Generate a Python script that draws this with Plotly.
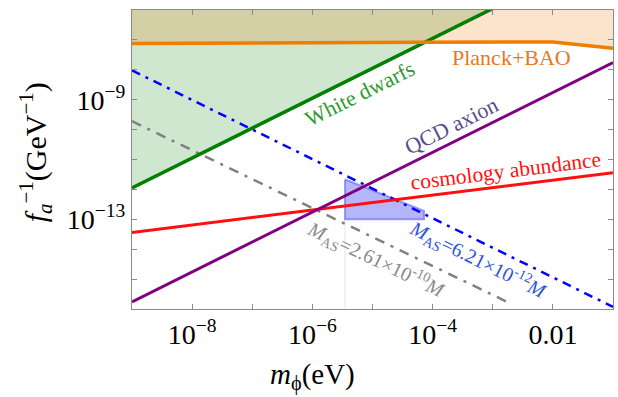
import numpy as np
import plotly.graph_objects as go

# ---- data (log10 values) ----
x_decades = list(range(-9, 0))           # tick positions (log10 m_phi)
x_tick_labels = {-8: "10<sup>−8</sup>", -6: "10<sup>−6</sup>", -4: "10<sup>−4</sup>", -2: "0.01"}
y_decades = list(range(-16, -5))
y_tick_labels = {-9: "10<sup>−9</sup>", -13: "10<sup>−13</sup>"}

wd_logm = [-9.0, -1.0]
wd_logf = [-11.95, -3.95]

planck_logm = [-9.0, -4.9, -4.2, -2.0, -1.0]
planck_logf = [-7.12, -7.11, -7.08, -7.07, -7.28]

qcd_logm = [-9.0, -1.0]
qcd_logf = [-15.76, -7.76]

cosmo_logm = [-9.0, -1.0]
cosmo_logf = [-13.44, -11.44]

mas1_logm = [-9.0, -1.0]          # M_AS = 6.21e-12 M
mas1_logf = [-8.02, -15.93]

mas2_logm = [-9.0, -2.69]         # M_AS = 2.61e-10 M
mas2_logf = [-9.72, -15.83]

region_logm = [-5.457, -4.144, -4.144, -5.457, -5.457]
region_logf = [-11.67, -12.72, -13.0, -13.0, -11.67]

guide_logm = [-5.457, -5.457]
guide_logf = [-16.0, -13.0]

TOP = -3.95


def p(v):
    return [10.0 ** t for t in v]


fig = go.Figure()

# white-dwarf excluded region (above green line)
fig.add_trace(go.Scatter(
    x=p(wd_logm + [wd_logm[-1], wd_logm[0]]),
    y=p(wd_logf + [TOP, TOP]),
    fill="toself", fillcolor="rgba(0,128,0,0.19)", line=dict(width=0),
    mode="lines", hoverinfo="skip", showlegend=False))

# Planck+BAO excluded region (above orange line)
fig.add_trace(go.Scatter(
    x=p(planck_logm + [planck_logm[-1], planck_logm[0]]),
    y=p(planck_logf + [TOP, TOP]),
    fill="toself", fillcolor="rgba(235,115,0,0.2)", line=dict(width=0),
    mode="lines", hoverinfo="skip", showlegend=False))

# faint guide line
fig.add_trace(go.Scatter(x=p(guide_logm), y=p(guide_logf), mode="lines",
                         line=dict(color="#E4E4F6", width=1), showlegend=False))

# allowed region
fig.add_trace(go.Scatter(
    x=p(region_logm), y=p(region_logf), fill="toself",
    fillcolor="rgba(90,90,245,0.45)",
    line=dict(color="rgba(120,120,245,0.75)", width=2),
    mode="lines", showlegend=False))

fig.add_trace(go.Scatter(x=p(mas2_logm), y=p(mas2_logf), mode="lines",
                         line=dict(color="#808080", width=2.5, dash="10px,7px,3px,7px"),
                         showlegend=False))
fig.add_trace(go.Scatter(x=p(mas1_logm), y=p(mas1_logf), mode="lines",
                         line=dict(color="#0000FF", width=2.5, dash="9px,6px,3px,6px"),
                         showlegend=False))
fig.add_trace(go.Scatter(x=p(cosmo_logm), y=p(cosmo_logf), mode="lines",
                         line=dict(color="#FF1010", width=3), showlegend=False))
fig.add_trace(go.Scatter(x=p(qcd_logm), y=p(qcd_logf), mode="lines",
                         line=dict(color="#800080", width=3), showlegend=False))
fig.add_trace(go.Scatter(x=p(wd_logm), y=p(wd_logf), mode="lines",
                         line=dict(color="#008000", width=3.5), showlegend=False))
fig.add_trace(go.Scatter(x=p(planck_logm), y=p(planck_logf), mode="lines",
                         line=dict(color="#F07D00", width=3.5), showlegend=False))

SERIF = "Liberation Serif"

axis_common = dict(type="log", showgrid=False, zeroline=False, showline=True,
                   linecolor="#8a8a8a", linewidth=1, mirror="ticks", ticks="inside",
                   ticklen=5, tickcolor="#8a8a8a", automargin=False,
                   tickfont=dict(family=SERIF, size=28, color="black"))

fig.update_xaxes(range=[-9, -1],
                 tickvals=p(x_decades),
                 ticktext=[x_tick_labels.get(d, "") for d in x_decades],
                 **axis_common)
fig.update_yaxes(range=[-16, -6],
                 tickvals=p(y_decades),
                 ticktext=[y_tick_labels.get(d, "") for d in y_decades],
                 **axis_common)

ann = []


def label(x, y, text, color, size, angle):
    ann.append(dict(x=x, y=y, xref="x", yref="y", text=text, showarrow=False,
                    xanchor="center", yanchor="middle",
                    textangle=angle, font=dict(family=SERIF, size=size, color=color)))


label(-2.68, -7.6, "Planck+BAO", "#E8781A", 22, 0)
label(-5.21, -8.78, "White dwarfs", "#2E9A2E", 22, -26.5)
label(-3.68, -9.87, "QCD axion", "#5B4B8A", 22, -26.5)
label(-2.78, -11.4, "cosmology abundance", "#FF1010", 21.5, -7.1)
label(-3.25, -14.37, "<i>M</i><sub>AS</sub>=6.21×10<sup>-12</sup><i>M</i>", "#2D55D8", 20, 26.3)
label(-4.94, -14.37, "<i>M</i><sub>AS</sub>=2.61×10<sup>-10</sup><i>M</i>", "#8a8a8a", 20, 25.7)

ann.append(dict(x=(312 - 131.7) / 481.3, y=(309 - 376) / 299, xref="paper", yref="paper",
                xanchor="center", yanchor="middle",
                text="<i>m</i><sub>ϕ</sub>(eV)", showarrow=False,
                font=dict(family=SERIF, size=29, color="black")))
ann.append(dict(x=(35 - 131.7) / 481.3, y=(309 - 152) / 299, xref="paper", yref="paper",
                xanchor="center", yanchor="middle",
                text="<i>f</i><sub><i>a</i></sub><sup>−1</sup>(GeV<sup>−1</sup>)", showarrow=False,
                textangle=-90, font=dict(family=SERIF, size=30, color="black")))

fig.update_layout(width=618, height=397,
                  margin=dict(l=132, r=5, t=10, b=88, autoexpand=False),
                  paper_bgcolor="white", plot_bgcolor="white",
                  annotations=ann, showlegend=False)

fig.write_html("out.html", config={"displayModeBar": False},
               post_script="document.body.style.margin='0';document.body.style.overflow='hidden';")
